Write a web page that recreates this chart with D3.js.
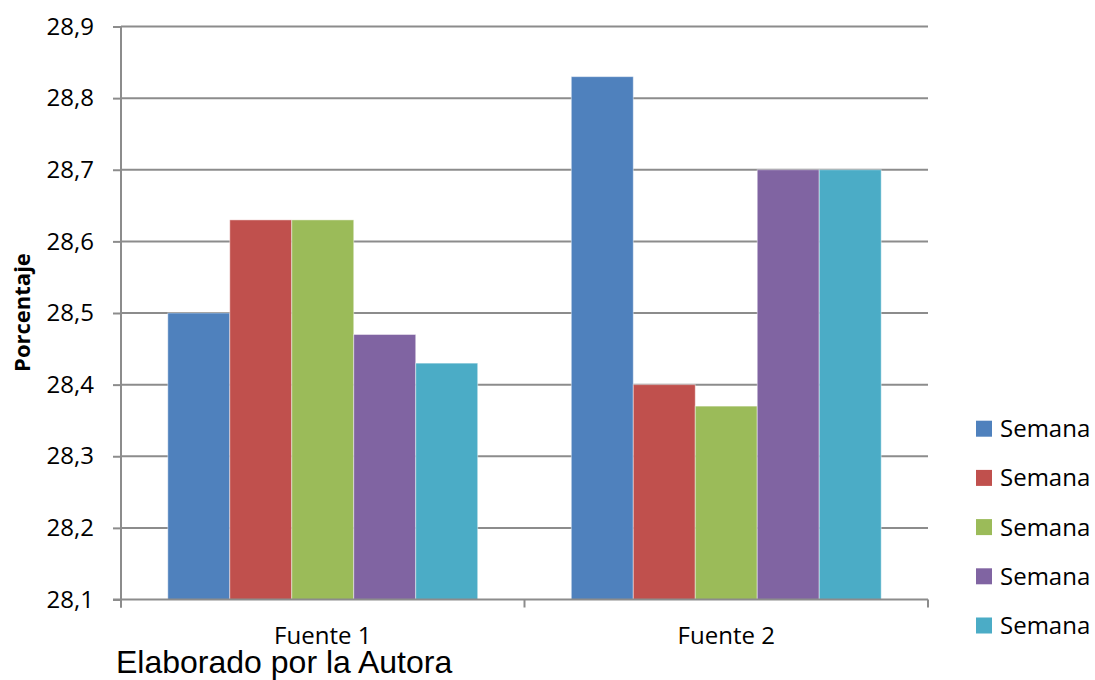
<!DOCTYPE html>
<html>
<head>
<meta charset="utf-8">
<script src="https://cdn.jsdelivr.net/npm/d3@7"></script>
<style>
  html, body { margin: 0; padding: 0; background: #fff; }
  svg { display: block; }
</style>
</head>
<body>
<svg id="chart" width="1095" height="680"></svg>
<script>
// Data
const categories = ["Fuente 1", "Fuente 2"];
const seriesNames = ["Semana 1", "Semana 2", "Semana 3", "Semana 4", "Semana 5"];
const legendLabels = ["Semana", "Semana", "Semana", "Semana", "Semana"];
const fuente1 = [28.50, 28.63, 28.63, 28.47, 28.43];
const fuente2 = [28.83, 28.40, 28.37, 28.70, 28.70];
const yTicks = [28.1, 28.2, 28.3, 28.4, 28.5, 28.6, 28.7, 28.8, 28.9];
const colors = ["#4F81BD", "#C0504D", "#9BBB59", "#8064A2", "#4BACC6"];

const table = categories.map((c, i) => ({
  category: c,
  values: (i === 0 ? fuente1 : fuente2).map((v, j) => ({ series: seriesNames[j], value: v, idx: j }))
}));

const svg = d3.select("#chart");
const plot = { left: 121, right: 928, top: 26.5, bottom: 599.5 };
const gridColor = "#8c8c8c";
const fmt = v => d3.format(".1f")(v).replace(".", ",");

const y = d3.scaleLinear().domain([28.1, 28.9]).range([plot.bottom, plot.top]);
const x0 = d3.scaleBand().domain(categories).range([plot.left, plot.right]).padding(0);
const x1 = d3.scaleBand().domain(seriesNames).range([0, x0.bandwidth()]).paddingInner(0).paddingOuter(0.755);

// Horizontal gridlines
svg.append("g")
  .selectAll("line")
  .data(yTicks.filter(t => t > 28.1))
  .join("line")
  .attr("x1", plot.left).attr("x2", plot.right)
  .attr("y1", d => y(d)).attr("y2", d => y(d))
  .attr("stroke", gridColor).attr("stroke-width", 2);

// Bars
const groups = svg.append("g")
  .selectAll("g")
  .data(table)
  .join("g")
  .attr("transform", d => `translate(${x0(d.category)},0)`);

groups.selectAll("rect")
  .data(d => d.values)
  .join("rect")
  .attr("x", d => x1(d.series))
  .attr("width", x1.bandwidth())
  .attr("y", d => y(d.value))
  .attr("height", d => y(28.1) - y(d.value))
  .attr("fill", d => colors[d.idx])
  .attr("stroke", "rgba(255,255,255,0.45)")
  .attr("stroke-width", 1);

// Y axis
const yAxis = svg.append("g")
  .attr("transform", `translate(${plot.left},0)`)
  .call(d3.axisLeft(y).tickValues(yTicks).tickFormat(fmt).tickSize(8).tickPadding(19));
yAxis.select(".domain").attr("stroke", gridColor).attr("stroke-width", 2)
  .attr("d", `M0,${plot.top}V${plot.bottom + 8}`);
yAxis.selectAll(".tick line").attr("stroke", gridColor).attr("stroke-width", 2);
yAxis.selectAll(".tick text")
  .attr("font-family", "'Open Sans', sans-serif")
  .attr("font-size", 24)
  .attr("fill", "#000");

// X axis
const xAxisG = svg.append("g").attr("transform", `translate(0,${plot.bottom})`);
xAxisG.append("line")
  .attr("x1", plot.left - 8).attr("x2", plot.right)
  .attr("y1", 0).attr("y2", 0)
  .attr("stroke", gridColor).attr("stroke-width", 2);
const boundaries = [plot.left].concat(categories.map(c => x0(c) + x0.bandwidth()));
xAxisG.selectAll("line.tick")
  .data(boundaries)
  .join("line")
  .attr("class", "tick")
  .attr("x1", d => d).attr("x2", d => d)
  .attr("y1", 0).attr("y2", 8)
  .attr("stroke", gridColor).attr("stroke-width", 2);
xAxisG.selectAll("text")
  .data(categories)
  .join("text")
  .attr("x", d => x0(d) + x0.bandwidth() / 2)
  .attr("y", 44.5)
  .attr("text-anchor", "middle")
  .attr("font-family", "'Open Sans', sans-serif")
  .attr("font-size", 24)
  .attr("fill", "#000")
  .text(d => d);

// Y axis title
svg.append("text")
  .attr("transform", "translate(29.5,312.5) rotate(-90)")
  .attr("text-anchor", "middle")
  .attr("font-family", "'Open Sans', sans-serif")
  .attr("font-weight", "bold")
  .attr("font-size", 22)
  .attr("fill", "#000")
  .text("Porcentaje");

// Legend
const legend = svg.append("g")
  .selectAll("g")
  .data(legendLabels)
  .join("g")
  .attr("transform", (d, i) => `translate(976,${428.7 + i * 49.2})`);
legend.append("rect")
  .attr("x", 0).attr("y", -8)
  .attr("width", 16).attr("height", 16)
  .attr("fill", (d, i) => colors[i]);
legend.append("text")
  .attr("x", 24).attr("y", 0)
  .attr("dy", "0.35em")
  .attr("font-family", "'Open Sans', sans-serif")
  .attr("font-size", 24)
  .attr("fill", "#000")
  .text(d => d);

// Source note
svg.append("text")
  .attr("x", 116).attr("y", 673)
  .attr("font-family", "'Liberation Sans', Arial, sans-serif")
  .attr("font-size", 32)
  .attr("fill", "#000")
  .text("Elaborado por la Autora");
</script>
</body>
</html>
